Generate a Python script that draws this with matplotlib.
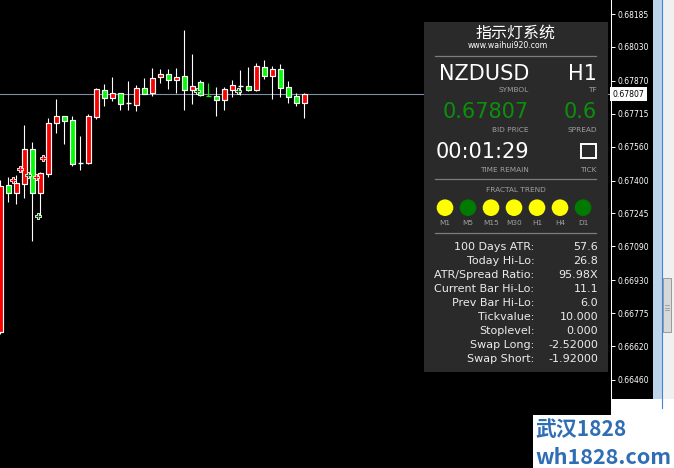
import matplotlib
matplotlib.use("Agg")
import matplotlib.pyplot as plt
from matplotlib.patches import Rectangle, Circle

# ---- hourly NZDUSD candles, oldest first ----
opens = [0.67374, 0.67343, 0.67390, 0.67549, 0.67343, 0.67436, 0.67671, 0.67704,
         0.67682, 0.67480, 0.67484, 0.67704, 0.67832, 0.67791, 0.67811, 0.67762,
         0.67764, 0.67835, 0.67809, 0.67882, 0.67901, 0.67875, 0.67887, 0.67828,
         0.67844, 0.67805, 0.67797, 0.67781, 0.67832, 0.67850, 0.67847, 0.67827,
         0.67940, 0.67894, 0.67926, 0.67838, 0.67795, 0.67767, 0.67808]
highs = [0.67403, 0.67417, 0.67426, 0.67662, 0.67582, 0.67440, 0.67695, 0.67784,
         0.67706, 0.67704, 0.67610, 0.67714, 0.67836, 0.67855, 0.67888, 0.67813,
         0.67869, 0.67849, 0.67883, 0.67930, 0.67924, 0.67924, 0.67929, 0.68110,
         0.67997, 0.67873, 0.67860, 0.67841, 0.67841, 0.67874, 0.67921, 0.67935,
         0.67954, 0.67968, 0.67940, 0.67949, 0.67869, 0.67813, 0.67813]
lows = [0.66679, 0.67298, 0.67290, 0.67319, 0.67115, 0.67228, 0.67418, 0.67626,
        0.67572, 0.67469, 0.67450, 0.67480, 0.67692, 0.67753, 0.67776, 0.67734,
        0.67734, 0.67729, 0.67807, 0.67799, 0.67861, 0.67833, 0.67814, 0.67734,
        0.67762, 0.67797, 0.67797, 0.67704, 0.67733, 0.67795, 0.67803, 0.67822,
        0.67822, 0.67879, 0.67784, 0.67794, 0.67766, 0.67751, 0.67695]
closes = [0.66688, 0.67379, 0.67343, 0.67386, 0.67549, 0.67343, 0.67432, 0.67669,
          0.67704, 0.67684, 0.67484, 0.67484, 0.67701, 0.67825, 0.67791, 0.67811,
          0.67764, 0.67758, 0.67835, 0.67814, 0.67887, 0.67901, 0.67875, 0.67891,
          0.67828, 0.67863, 0.67797, 0.67799, 0.67781, 0.67828, 0.67847, 0.67844,
          0.67827, 0.67935, 0.67894, 0.67926, 0.67841, 0.67799, 0.67767]

# fractal arrows: bar position, price, up/down
fractal_x = [1.62, 2.46, 3.5, 4.46, 5.37, 4.67, 24.55, 29.67]
fractal_y = [0.67403, 0.67455, 0.67426, 0.67415, 0.67508, 0.67233, 0.67824, 0.67824]
fractal_up = [False, False, True, False, False, True, True, True]

bid = 0.67807
price_ticks = [0.68185, 0.68030, 0.67870, 0.67715, 0.67560, 0.67400,
               0.67245, 0.67090, 0.66930, 0.66775, 0.66620, 0.66460]

# ---- info panel contents ----
symbol, timeframe = "NZDUSD", "H1"
bid_text, spread_text = "0.67807", "0.6"
time_remain = "00:01:29"
trend_frames = ["M1", "M5", "M15", "M30", "H1", "H4", "D1"]
trend_is_up = [True, False, True, True, True, True, False]
stat_labels = ["100 Days ATR:", "Today Hi-Lo:", "ATR/Spread Ratio:", "Current Bar Hi-Lo:",
               "Prev Bar Hi-Lo:", "Tickvalue:", "Stoplevel:", "Swap Long:", "Swap Short:"]
stat_values = ["57.6", "26.8", "95.98X", "11.1", "6.0", "10.000", "0.000",
               "-2.52000", "-1.92000"]

W, H = 674, 468
CHART_R, CHART_B = 611, 399          # pixel edges of the candle area
PX_PER_PRICE = 21217.0
PX_PER_BAR = 8.0
TOP_PRICE = 0.68185 + 14 / PX_PER_PRICE

fig = plt.figure(figsize=(W / 100, H / 100), dpi=100, facecolor="black")
ax = fig.add_axes([0, (H - CHART_B) / H, CHART_R / W, CHART_B / H], facecolor="black")
ax.set_ylim(TOP_PRICE - CHART_B / PX_PER_PRICE, TOP_PRICE)
ax.set_xlim(-0.33 / PX_PER_BAR, (CHART_R - 0.33) / PX_PER_BAR)

# wicks
xs = list(range(len(opens)))
wick_cols = ["#00ff00" if i == 26 else "white" for i in xs]
ax.vlines(xs, lows, highs, colors=wick_cols, lw=0.8, zorder=2)

# bodies
for i, (o, c) in enumerate(zip(opens, closes)):
    if o == c:
        ax.hlines(o, i - 0.33, i + 0.33, colors=wick_cols[i], lw=1.0, zorder=3)
        continue
    face = "#00ff00" if c > o else "#ff0000"
    ax.bar(i, abs(c - o), bottom=min(o, c), width=0.56, color=face,
           edgecolor="white", linewidth=0.85, zorder=3)

# fractals
for fx, fy, up in zip(fractal_x, fractal_y, fractal_up):
    ax.scatter(fx, fy, marker="P", s=24, color="#006400" if up else "#ff0000",
               edgecolors="white", linewidths=0.6, zorder=4)

ax.axhline(bid, color="#8090a4", lw=0.8, zorder=1)

ax.set_xticks([])
ax.yaxis.tick_right()
ax.set_yticks(price_ticks)
ax.set_yticklabels([f"{p:.5f}" for p in price_ticks])
ax.tick_params(axis="y", colors="white", labelsize=5.5, length=2.6, width=0.7, pad=1.8)
for side in ["top", "left", "bottom"]:
    ax.spines[side].set_visible(False)
ax.spines["right"].set_color("white")
ax.spines["right"].set_linewidth(0.75)

ax.text(1.0028, bid, bid_text, transform=ax.get_yaxis_transform(), ha="left",
        va="center", fontsize=5.6, color="black", clip_on=False,
        bbox=dict(boxstyle="square,pad=0.35", fc="white", ec="none"))

# ---- overlay in pixel coordinates ----
ov = fig.add_axes([0, 0, 1, 1], zorder=5)
ov.set_xlim(0, W)
ov.set_ylim(H, 0)
ov.axis("off")


def put(x, y, s, size, color="white", ha="right", **kw):
    # y is the vertical centre of the capitals, in pixels
    cap = 0.73 * size * 100 / 72
    ov.text(x, y + cap / 2, s, fontsize=size, color=color, ha=ha, va="baseline", **kw)


# right strip / scrollbar
ov.add_patch(Rectangle((653, 0), 9, 408, fc="#bcd4ec", ec="none"))
ov.add_patch(Rectangle((662, 0), 12, 408, fc="#f0f0f0", ec="none"))
ov.plot([662, 662], [0, 408], color="#3f86d0", lw=0.8)
ov.add_patch(Rectangle((663, 278), 8, 54, fc="#d8d8d8", ec="#9a9a9a", lw=0.7))
for gy in (305, 307.5, 310):
    ov.plot([665, 669], [gy, gy], color="#8a8a8a", lw=0.5)

# bottom watermark
ov.add_patch(Rectangle((611, CHART_B), W - 611, H - CHART_B, fc="white", ec="none"))
ov.add_patch(Rectangle((533, 415), W - 533, H - 415, fc="white", ec="none"))
ov.text(535, 430, "武汉1828", fontsize=15, color="#2f6db5", ha="left", va="center",
        fontweight="bold", family=["Noto Sans CJK SC", "DejaVu Sans"])
ov.text(535, 458, "wh1828.com", fontsize=15.5, color="#2f6db5", ha="left", va="center",
        fontweight="bold", family=["Noto Sans CJK SC", "DejaVu Sans"])

# panel
ov.add_patch(Rectangle((424, 22), 184, 350, fc="#2a2a2a", ec="none"))
ov.text(516, 33, "指示灯系统", fontsize=11.5, color="white", ha="center", va="center",
        family=["Noto Sans CJK SC", "DejaVu Sans"])
ov.text(507.5, 45, "www.waihui920.com", fontsize=5.6, color="white", ha="center",
        va="center")
for ly in (55.5, 179, 233):
    ov.plot([435, 596], [ly, ly], color="#7c7c7c", lw=0.9)

grey = "#a0a0a0"
green = "#0c8f0c"
put(529, 72, symbol, 15)
put(597, 72, timeframe, 15)
put(529, 89, "SYMBOL", 5.3, grey)
put(597, 89, "TF", 5.3, grey)
put(529, 110, bid_text, 15, green)
put(597, 110, spread_text, 15, green)
put(529, 129, "BID PRICE", 5.3, grey)
put(597, 129, "SPREAD", 5.3, grey)
put(529, 150, time_remain, 15)
ov.add_patch(Rectangle((581, 143.5), 15, 14, fc="none", ec="white", lw=1.4))
put(529, 169, "TIME REMAIN", 5.3, grey)
put(597, 169, "TICK", 5.3, grey)

put(516, 189, "FRACTAL TREND", 5.3, grey, ha="center")
for k, (tf, up) in enumerate(zip(trend_frames, trend_is_up)):
    cx = 445 + 23 * k
    ov.add_patch(Circle((cx, 207.7), 8.3, fc="#ffff00" if up else "#007a00", ec="none"))
    put(cx, 222.7, tf, 5.3, grey, ha="center")

for k, (lab, val) in enumerate(zip(stat_labels, stat_values)):
    put(534.3, 246 + 14 * k, lab, 8, "#ececec")
    put(598.3, 246 + 14 * k, val, 8, "#ececec")

fig.savefig("out.png", dpi=100, facecolor="black")
